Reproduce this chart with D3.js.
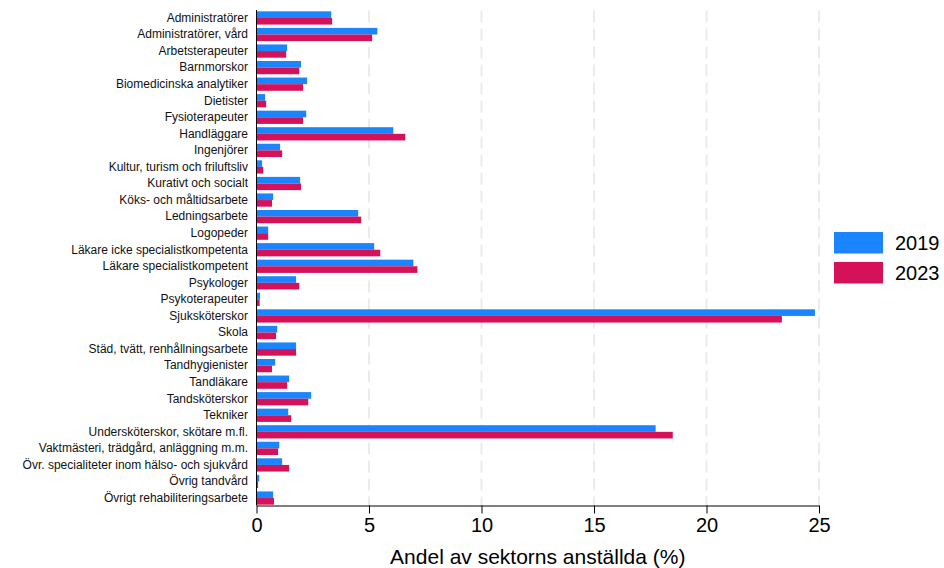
<!DOCTYPE html>
<html>
<head>
<meta charset="utf-8">
<script src="https://cdn.jsdelivr.net/npm/d3@7"></script>
<style>
  html, body { margin: 0; padding: 0; background: #ffffff; }
  svg { display: block; font-family: "Liberation Sans", Arial, sans-serif; }
</style>
</head>
<body>
<svg id="chart" width="944" height="568"></svg>
<script>
const categories = [
  "Administratörer",
  "Administratörer, vård",
  "Arbetsterapeuter",
  "Barnmorskor",
  "Biomedicinska analytiker",
  "Dietister",
  "Fysioterapeuter",
  "Handläggare",
  "Ingenjörer",
  "Kultur, turism och friluftsliv",
  "Kurativt och socialt",
  "Köks- och måltidsarbete",
  "Ledningsarbete",
  "Logopeder",
  "Läkare icke specialistkompetenta",
  "Läkare specialistkompetent",
  "Psykologer",
  "Psykoterapeuter",
  "Sjuksköterskor",
  "Skola",
  "Städ, tvätt, renhållningsarbete",
  "Tandhygienister",
  "Tandläkare",
  "Tandsköterskor",
  "Tekniker",
  "Undersköterskor, skötare m.fl.",
  "Vaktmästeri, trädgård, anläggning m.m.",
  "Övr. specialiteter inom hälso- och sjukvård",
  "Övrig tandvård",
  "Övrigt rehabiliteringsarbete"
];
const values2019 = [3.32, 5.37, 1.36, 1.98, 2.25, 0.38, 2.21, 6.08, 1.05, 0.25,
                    1.94, 0.74, 4.52, 0.52, 5.23, 6.97, 1.76, 0.16, 24.82, 0.92,
                    1.76, 0.83, 1.45, 2.43, 1.41, 17.74, 1.01, 1.14, 0.12, 0.74];
const values2023 = [3.36, 5.14, 1.32, 1.90, 2.07, 0.43, 2.07, 6.61, 1.14, 0.30,
                    1.98, 0.69, 4.65, 0.52, 5.50, 7.15, 1.90, 0.14, 23.35, 0.87,
                    1.76, 0.69, 1.36, 2.30, 1.54, 18.50, 0.96, 1.45, 0.07, 0.78];
const seriesNames = ["2019", "2023"];
const seriesColors = ["#1A85FF", "#D41159"];
const xTicks = [0, 5, 10, 15, 20, 25];
const xTitle = "Andel av sektorns anställda (%)";

const svg = d3.select("#chart");
const plotLeft = 256.5, plotRight = 819, plotTop = 10.5, plotBottom = 505.5;

const x = d3.scaleLinear().domain([0, 25]).range([plotLeft, plotRight]);
const y = d3.scaleBand().domain(categories).range([plotTop, plotBottom])
  .paddingInner(0.2).paddingOuter(0.05);
const ySub = d3.scaleBand().domain(seriesNames).range([0, y.bandwidth()]);

// gridlines
svg.append("g").selectAll("line")
  .data(xTicks.filter(d => d > 0))
  .join("line")
  .attr("x1", d => x(d)).attr("x2", d => x(d))
  .attr("y1", plotTop).attr("y2", plotBottom)
  .attr("stroke", "#ebebeb").attr("stroke-width", 2)
  .attr("stroke-dasharray", "12,6");

// bars
const data = categories.map((c, i) => ({ c, vals: [values2019[i], values2023[i]] }));
const groups = svg.append("g").selectAll("g")
  .data(data).join("g")
  .attr("transform", d => `translate(0,${y(d.c)})`);
groups.selectAll("rect")
  .data(d => d.vals.map((v, j) => ({ v, s: seriesNames[j], col: seriesColors[j] })))
  .join("rect")
  .attr("x", x(0))
  .attr("y", d => ySub(d.s))
  .attr("width", d => x(d.v) - x(0))
  .attr("height", ySub.bandwidth())
  .attr("fill", d => d.col);

// y axis
const yAxis = svg.append("g")
  .attr("transform", `translate(${plotLeft},0)`)
  .call(d3.axisLeft(y).tickSize(0).tickPadding(8.5));
yAxis.select(".domain").attr("stroke", "#000").attr("d", `M0,${plotTop - 0.5}V${plotBottom}`);
yAxis.selectAll("text")
  .attr("font-family", "Liberation Sans, Arial, sans-serif")
  .attr("font-size", "12px").attr("fill", "#111");

// x axis
const xAxis = svg.append("g")
  .attr("transform", `translate(0,${plotBottom})`)
  .call(d3.axisBottom(x).tickValues(xTicks).tickSize(8).tickPadding(4).tickSizeOuter(0));
xAxis.select(".domain").attr("stroke", "#000");
xAxis.selectAll(".tick line").attr("stroke", "#000");
xAxis.selectAll("text")
  .attr("font-family", "Liberation Sans, Arial, sans-serif")
  .attr("font-size", "20px").attr("fill", "#000");

// x title
svg.append("text")
  .attr("x", (plotLeft + plotRight) / 2).attr("y", 564)
  .attr("text-anchor", "middle")
  .attr("font-size", "21px").attr("fill", "#000")
  .text(xTitle);

// legend
const legend = svg.append("g").selectAll("g")
  .data(seriesNames).join("g")
  .attr("transform", (d, i) => `translate(834,${232 + i * 30})`);
legend.append("rect")
  .attr("width", 49).attr("height", 21.5)
  .attr("fill", (d, i) => seriesColors[i]);
legend.append("text")
  .attr("x", 61).attr("y", 11).attr("dy", "0.35em")
  .attr("font-size", "20px").attr("fill", "#000")
  .text(d => d);
</script>
</body>
</html>
